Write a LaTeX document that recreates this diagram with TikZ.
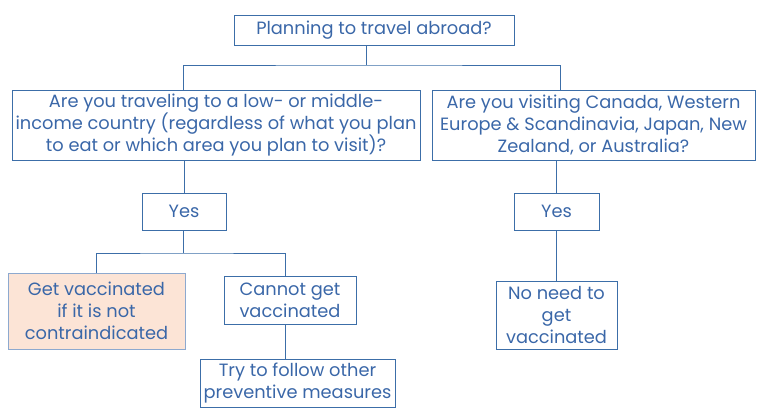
\documentclass[tikz,border=0pt]{standalone}
\usepackage{fontspec}
\setmainfont{Poppins}
\definecolor{txtblue}{HTML}{3A67A8}
\definecolor{lineblue}{HTML}{3C6EA8}
\definecolor{peach}{HTML}{FCE4D6}
\definecolor{peachline}{HTML}{8DA9CF}
\begin{document}
\begin{tikzpicture}[x=1pt,y=-1pt,
  box/.style={draw=lineblue, line width=1pt, text=txtblue, inner sep=0pt, align=center,
    font=\fontsize{17.8}{22}\selectfont},
  conn/.style={draw=lineblue, line width=1pt}]
\useasboundingbox (0,0) rectangle (760,418);
\node[box, minimum width=280, minimum height=30] (top) at (374,30) {Planning to travel abroad?};
\node[box, minimum width=408, minimum height=70] (lq) at (216,125) {Are you traveling to a low- or middle-\\income country (regardless of what you plan\\to eat or which area you plan to visit)?};
\node[box, minimum width=323, minimum height=70] (rq) at (593.5,125) {Are you visiting Canada, Western\\Europe \& Scandinavia, Japan, New\\Zealand, or Australia?};
\node[box, minimum width=84, minimum height=37] (ly) at (184,211.5) {Yes};
\node[box, minimum width=85, minimum height=37] (ry) at (556.5,211.5) {Yes};
\node[box, draw=peachline, fill=peach, minimum width=177, minimum height=76] (gv) at (96.5,311) {Get vaccinated\\if it is not\\contraindicated};
\node[box, minimum width=132, minimum height=48] (cg) at (290,300) {Cannot get\\vaccinated};
\node[box, minimum width=195, minimum height=48] (tf) at (297.5,383) {Try to follow other\\preventive measures};
\node[box, minimum width=121, minimum height=68] (nn) at (556.5,315) {No need to\\get\\vaccinated};
\coordinate (j1) at (366,65);
\coordinate (j2) at (183,253);
\draw[conn] (top.south -| j1) -- (j1);
\draw[conn] (183,90) |- (j1) -| (560,90);
\draw[conn] (lq.south -| ly) -- (ly.north);
\draw[conn] (rq.south -| ry) -- (ry.north);
\draw[conn] (ly.south -| j2) -- (j2);
\draw[conn] (gv.north) |- (j2) -| (285,276);
\draw[conn] (285,324) -- (285,359);
\draw[conn] (ry.south) -- (nn.north);
\end{tikzpicture}
\end{document}
